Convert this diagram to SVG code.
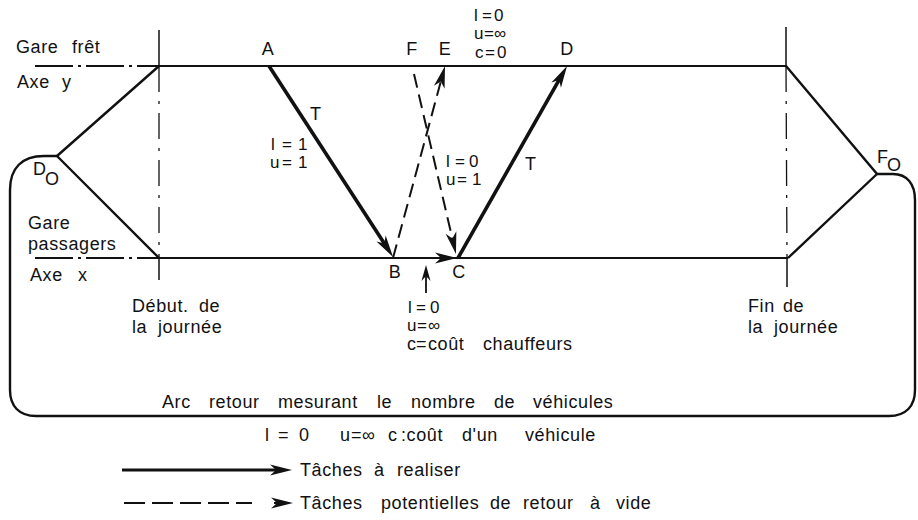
<svg xmlns="http://www.w3.org/2000/svg" width="918" height="520" viewBox="0 0 918 520">
<style>
text{font-family:"Liberation Sans",Arial,Helvetica,sans-serif;font-size:18px;fill:#111;letter-spacing:0.6px}
text.s{font-size:17px;letter-spacing:0.4px}
.ax{stroke:#111;stroke-width:2;fill:none}
.ln{stroke:#111;stroke-width:2.4;fill:none}
.dd{stroke:#111;stroke-width:1.8;fill:none;stroke-dasharray:38 5 3 5}
.vd{stroke:#111;stroke-width:1.3;fill:none;stroke-dasharray:26 9 3 9}
.task{stroke:#111;stroke-width:3.6;fill:none;marker-end:url(#ah)}
.empty{stroke:#111;stroke-width:2;fill:none;stroke-dasharray:14 7;marker-end:url(#ah)}
.thin{stroke:#111;stroke-width:1.8;fill:none;marker-end:url(#ahs)}
.mid{text-anchor:middle}
</style>
<defs>
<marker id="ah" markerUnits="userSpaceOnUse" viewBox="-24 -7 36 14" markerWidth="36" markerHeight="14" refX="-10" refY="0" orient="auto"><path d="M0,0 L-22,-5.5 L-16,0 L-22,5.5 Z" fill="#111"/></marker>
<marker id="ahs" markerUnits="userSpaceOnUse" viewBox="-18 -6 28 12" markerWidth="28" markerHeight="12" refX="-8" refY="0" orient="auto"><path d="M0,0 L-16,-4.5 L-11,0 L-16,4.5 Z" fill="#111"/></marker>
</defs>

<g id="axes">
  <path class="dd" d="M35,66 H159 M35,258 H159"/>
  <path class="ax" d="M159,66 H787 M159,258 H788"/>
  <path class="ax" d="M159,30 V66 M159,258 V280 M786,27 V66 M787,258 V287" style="stroke-width:1.5"/>
  <path class="vd" d="M159,66 V258 M786,66 L787,258"/>
  <text x="16" y="53">Gare<tspan x="72">frêt</tspan></text>
  <text x="17" y="88">Axe<tspan x="62">y</tspan></text>
  <text x="28" y="229">Gare</text>
  <text x="28" y="250">passagers</text>
  <text x="30" y="281">Axe<tspan x="78">x</tspan></text>
  <text x="132" y="312">Début.<tspan x="199">de</tspan></text>
  <text x="132" y="333">la<tspan x="158">journée</tspan></text>
  <text x="748" y="312">Fin<tspan x="783">de</tspan></text>
  <text x="748" y="333">la<tspan x="774">journée</tspan></text>
</g>

<g id="node-D0">
  <text x="33" y="175">D</text><text x="45" y="185">O</text>
</g>
<g id="node-F0">
  <text x="877" y="163">F</text><text x="887" y="171">O</text>
</g>
<g id="node-A"><text class="mid" x="268" y="55">A</text></g>
<g id="node-F"><text class="mid" x="412" y="55">F</text></g>
<g id="node-E"><text class="mid" x="445" y="55">E</text></g>
<g id="node-D"><text class="mid" x="567" y="55">D</text></g>
<g id="node-B"><text class="mid" x="395" y="278">B</text></g>
<g id="node-C"><text class="mid" x="459" y="278">C</text></g>

<g id="connectors">
  <path class="ln" d="M57,156 L159,66 M57,156 L159,258"/>
  <path class="ln" d="M786,66 L877,174 L788,258"/>
  <path class="ln" d="M57,156 H44 C22,156 10,168 10,190 V390 C10,406 19,416 36,416 H889 C906,416 915,406 915,390 V200 C915,184 907,174 893,174 H877"/>
  <path class="task" d="M269,66 L387.6,248.6"/>
  <path class="task" d="M458,258 L562.1,74.7"/>
  <path class="empty" d="M393,258 L442.4,75.7"/>
  <path class="empty" d="M414,74 L453.7,244.3"/>
  <path d="M436,258 H447" stroke="#111" stroke-width="2" fill="none" marker-end="url(#ah)"/>
  <path class="thin" d="M426,293 V273"/>
</g>

<g id="labels">
  <text class="s" x="474" y="21">l<tspan x="482">=</tspan><tspan x="494">0</tspan></text>
  <text class="s" x="474" y="39">u<tspan x="484">=</tspan><tspan x="494">∞</tspan></text>
  <text class="s" x="475" y="58">c<tspan x="485">=</tspan><tspan x="497">0</tspan></text>
  <text x="310" y="120">T</text>
  <text class="s" x="271" y="150">l<tspan x="282">=</tspan><tspan x="298">1</tspan></text>
  <text class="s" x="270" y="168">u<tspan x="282">=</tspan><tspan x="298">1</tspan></text>
  <text class="s" x="446" y="167">l<tspan x="455">=</tspan><tspan x="469">0</tspan></text>
  <text class="s" x="446" y="185">u<tspan x="457">=</tspan><tspan x="472">1</tspan></text>
  <text x="525" y="170">T</text>
  <text class="s" x="408" y="313">l<tspan x="416">=</tspan><tspan x="430">0</tspan></text>
  <text class="s" x="407" y="331">u<tspan x="417">=</tspan><tspan x="428">∞</tspan></text>
  <text x="407" y="350">c<tspan x="416">=</tspan><tspan x="428">coût</tspan><tspan x="483">chauffeurs</tspan></text>
  <text x="162" y="408">Arc<tspan x="209">retour</tspan><tspan x="278">mesurant</tspan><tspan x="377">le</tspan><tspan x="411">nombre</tspan><tspan x="494">de</tspan><tspan x="533">véhicules</tspan></text>
  <text x="265" y="441">l<tspan x="278">=</tspan><tspan x="299">0</tspan><tspan x="340">u</tspan><tspan x="351">=</tspan><tspan x="362">∞</tspan><tspan x="388">c</tspan><tspan x="401">:coût</tspan><tspan x="462">d'un</tspan><tspan x="525">véhicule</tspan></text>
</g>

<g id="legend">
  <path class="task" d="M122,470 H282" style="stroke-width:3"/>
  <text x="300" y="476">Tâches<tspan x="374">à</tspan><tspan x="397">realiser</tspan></text>
  <path d="M124,503 H252" stroke="#111" stroke-width="2" stroke-dasharray="21 7" fill="none"/>
  <path d="M274,503 H283" stroke="#111" stroke-width="2" fill="none" marker-end="url(#ah)"/>
  <text x="300" y="509">Tâches<tspan x="381">potentielles</tspan><tspan x="490">de</tspan><tspan x="523">retour</tspan><tspan x="590">à</tspan><tspan x="616">vide</tspan></text>
</g>
</svg>
